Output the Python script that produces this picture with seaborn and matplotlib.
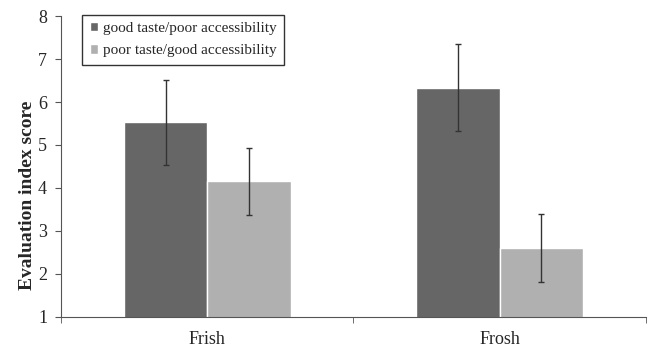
import matplotlib
matplotlib.use("Agg")
import matplotlib.pyplot as plt
import seaborn as sns
import pandas as pd

# Dados
categories = ["Frish", "Frosh"]
conditions = ["good taste/poor accessibility", "poor taste/good accessibility"]
good_taste = [5.53, 6.33]
poor_taste = [4.16, 2.60]
good_err = [0.99, 1.01]
poor_err = [0.78, 0.79]

df = pd.DataFrame({
    "food": categories * 2,
    "condition": [conditions[0]] * 2 + [conditions[1]] * 2,
    "score": good_taste + poor_taste,
})
errs = good_err + poor_err

sns.set_style("ticks")
plt.rcParams["font.family"] = ["Liberation Serif", "DejaVu Serif"]

fig = plt.figure(figsize=(6.49, 3.49), dpi=100)
ax = fig.add_axes([0.094, 0.092, 0.901, 0.862])

sns.barplot(data=df, x="food", y="score", hue="condition", order=categories,
            hue_order=conditions, palette=["#666666", "#b0b0b0"], width=0.57,
            errorbar=None, saturation=1, ax=ax)

# barras de erro nas posições das barras
for patch, val, e in zip(ax.patches[:4], df["score"], errs):
    xc = patch.get_x() + patch.get_width() / 2
    ax.errorbar(xc, val, yerr=e, color="#333333", lw=1, capsize=2, capthick=1)

ax.set_ylim(1, 8)
ax.set_xlim(-0.5, 1.5)
ax.set_yticks(range(1, 9))
ax.set_ylabel("Evaluation index score", fontsize=14, fontweight="bold")
ax.yaxis.set_label_coords(-0.043, 0.405)
ax.set_xlabel("")
ax.tick_params(axis="y", labelsize=13, length=4, color="#555555", pad=6)
ax.tick_params(axis="x", which="major", labelsize=13, length=0, pad=10)
ax.set_xticks([-0.5, 0.5, 1.5], minor=True)
ax.tick_params(axis="x", which="minor", length=4, color="#555555")
sns.despine(ax=ax)
for s in ["left", "bottom"]:
    ax.spines[s].set_color("#555555")

ax.legend(loc="upper left", bbox_to_anchor=(0.036, 1.005), fontsize=11,
          handlelength=0.55, handleheight=0.55, handletextpad=0.3,
          labelspacing=0.6, fancybox=False, edgecolor="#333333",
          framealpha=1, borderpad=0.5, borderaxespad=0)

fig.savefig("out.png", dpi=100)
